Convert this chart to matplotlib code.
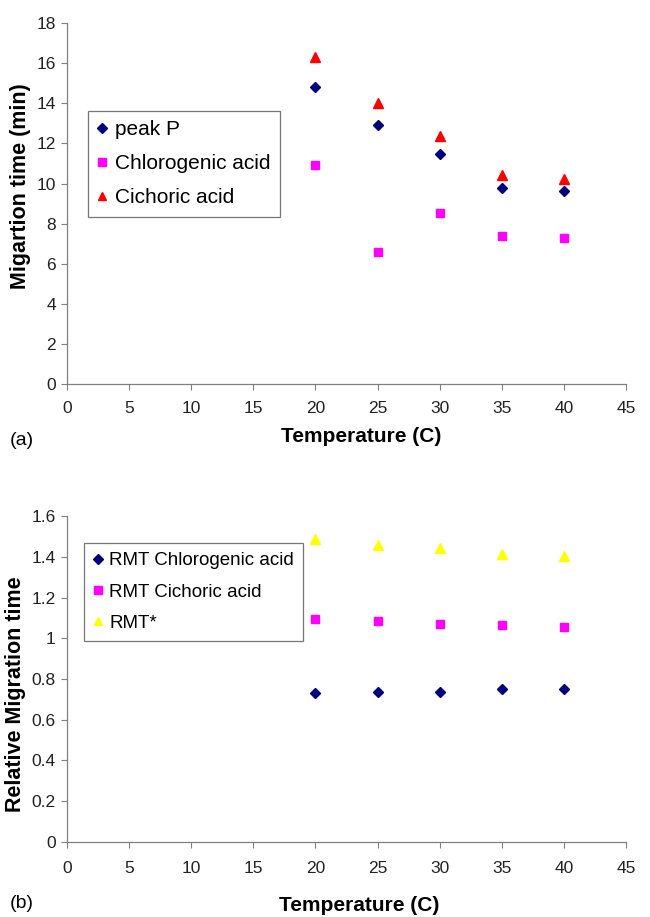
import numpy as np
import matplotlib
matplotlib.use('Agg')
import matplotlib.pyplot as plt

plt.rcParams['font.family'] = ['Liberation Sans', 'DejaVu Sans']

# temperatures (C)
temps = [20, 25, 30, 35, 40]

# (a) migration times (min)
peak_p = [14.8, 12.9, 11.45, 9.8, 9.62]
chlorogenic = [10.9, 6.57, 8.55, 7.38, 7.3]
cichoric = [16.3, 14.0, 12.35, 10.4, 10.2]

# (b) relative migration times
rmt_chlorogenic = [0.732, 0.737, 0.737, 0.753, 0.753]
rmt_cichoric = [1.096, 1.087, 1.072, 1.066, 1.058]
rmt_star = [1.49, 1.459, 1.445, 1.413, 1.403]

navy = '#00007f'
magenta = '#ff00ff'
red = '#ff0000'
yellow = '#ffff00'

fig = plt.figure(figsize=(6.5, 9.17), dpi=100)
ax1 = fig.add_axes([0.103, 0.581, 0.860, 0.394])
ax2 = fig.add_axes([0.103, 0.082, 0.860, 0.355])


def style_axes(ax, ylim, yticks, ylabels, xpad):
    ax.set_xlim(0, 45)
    ax.set_ylim(*ylim)
    ax.set_xticks(range(0, 46, 5))
    ax.set_yticks(yticks)
    ax.set_yticklabels(ylabels)
    for s in ['top', 'right']:
        ax.spines[s].set_visible(False)
    for s in ['left', 'bottom']:
        ax.spines[s].set_color('#808080')
        ax.spines[s].set_linewidth(0.9)
    ax.tick_params(direction='out', length=4, width=0.8, color='#808080',
                   labelsize=12.5, labelcolor='#222222')
    ax.tick_params(axis='x', pad=xpad)
    ax.tick_params(axis='y', pad=4)


ms = 6.5
ax1.plot(temps, peak_p, 'D', color=navy, ms=ms - 1, label='peak P')
ax1.plot(temps, chlorogenic, 's', color=magenta, ms=ms - 0.5, label='Chlorogenic acid')
ax1.plot(temps, cichoric, '^', color=red, ms=ms + 0.5, label='Cichoric acid')
style_axes(ax1, (0, 18), range(0, 19, 2), [str(v) for v in range(0, 19, 2)], 8)
ax1.set_xlabel('Temperature (C)', fontsize=15, fontweight='bold', labelpad=8)
ax1.xaxis.label.set_x(0.527)
ax1.set_ylabel('Migartion time (min)', fontsize=15.5, fontweight='bold', labelpad=4)
ax1.yaxis.label.set_y(0.548)
leg1 = ax1.legend(loc='upper left', bbox_to_anchor=(0.135, 0.879),
                  bbox_transform=fig.transFigure, fontsize=15, fancybox=False,
                  handlelength=0.5, handletextpad=0.35, borderpad=0.45,
                  labelspacing=0.72, borderaxespad=0, markerscale=0.85)
leg1.get_frame().set_edgecolor('#555555')
leg1.get_frame().set_linewidth(0.9)

ax2.plot(temps, rmt_chlorogenic, 'D', color=navy, ms=ms - 1, label='RMT Chlorogenic acid')
ax2.plot(temps, rmt_cichoric, 's', color=magenta, ms=ms - 0.5, label='RMT Cichoric acid')
ax2.plot(temps, rmt_star, '^', color=yellow, ms=ms + 0.5, label='RMT*')
yt2 = [0, 0.2, 0.4, 0.6, 0.8, 1.0, 1.2, 1.4, 1.6]
style_axes(ax2, (0, 1.6), yt2, ['0', '0.2', '0.4', '0.6', '0.8', '1', '1.2', '1.4', '1.6'], 10)
ax2.set_xlabel('Temperature (C)', fontsize=15, fontweight='bold', labelpad=14)
ax2.xaxis.label.set_x(0.522)
ax2.set_ylabel('Relative Migration time', fontsize=15.5, fontweight='bold', labelpad=4)
ax2.yaxis.label.set_y(0.454)
leg2 = ax2.legend(loc='upper left', bbox_to_anchor=(0.129, 0.408),
                  bbox_transform=fig.transFigure, fontsize=13.5, fancybox=False,
                  handlelength=0.5, handletextpad=0.35, borderpad=0.5,
                  labelspacing=0.75, borderaxespad=0, markerscale=0.85)
leg2.get_frame().set_edgecolor('#555555')
leg2.get_frame().set_linewidth(0.9)

fig.text(0.015, 1 - 440 / 917, '(a)', fontsize=14, va='center')
fig.text(0.015, 1 - 903 / 917, '(b)', fontsize=14, va='center')

fig.savefig('out.png', dpi=100)
